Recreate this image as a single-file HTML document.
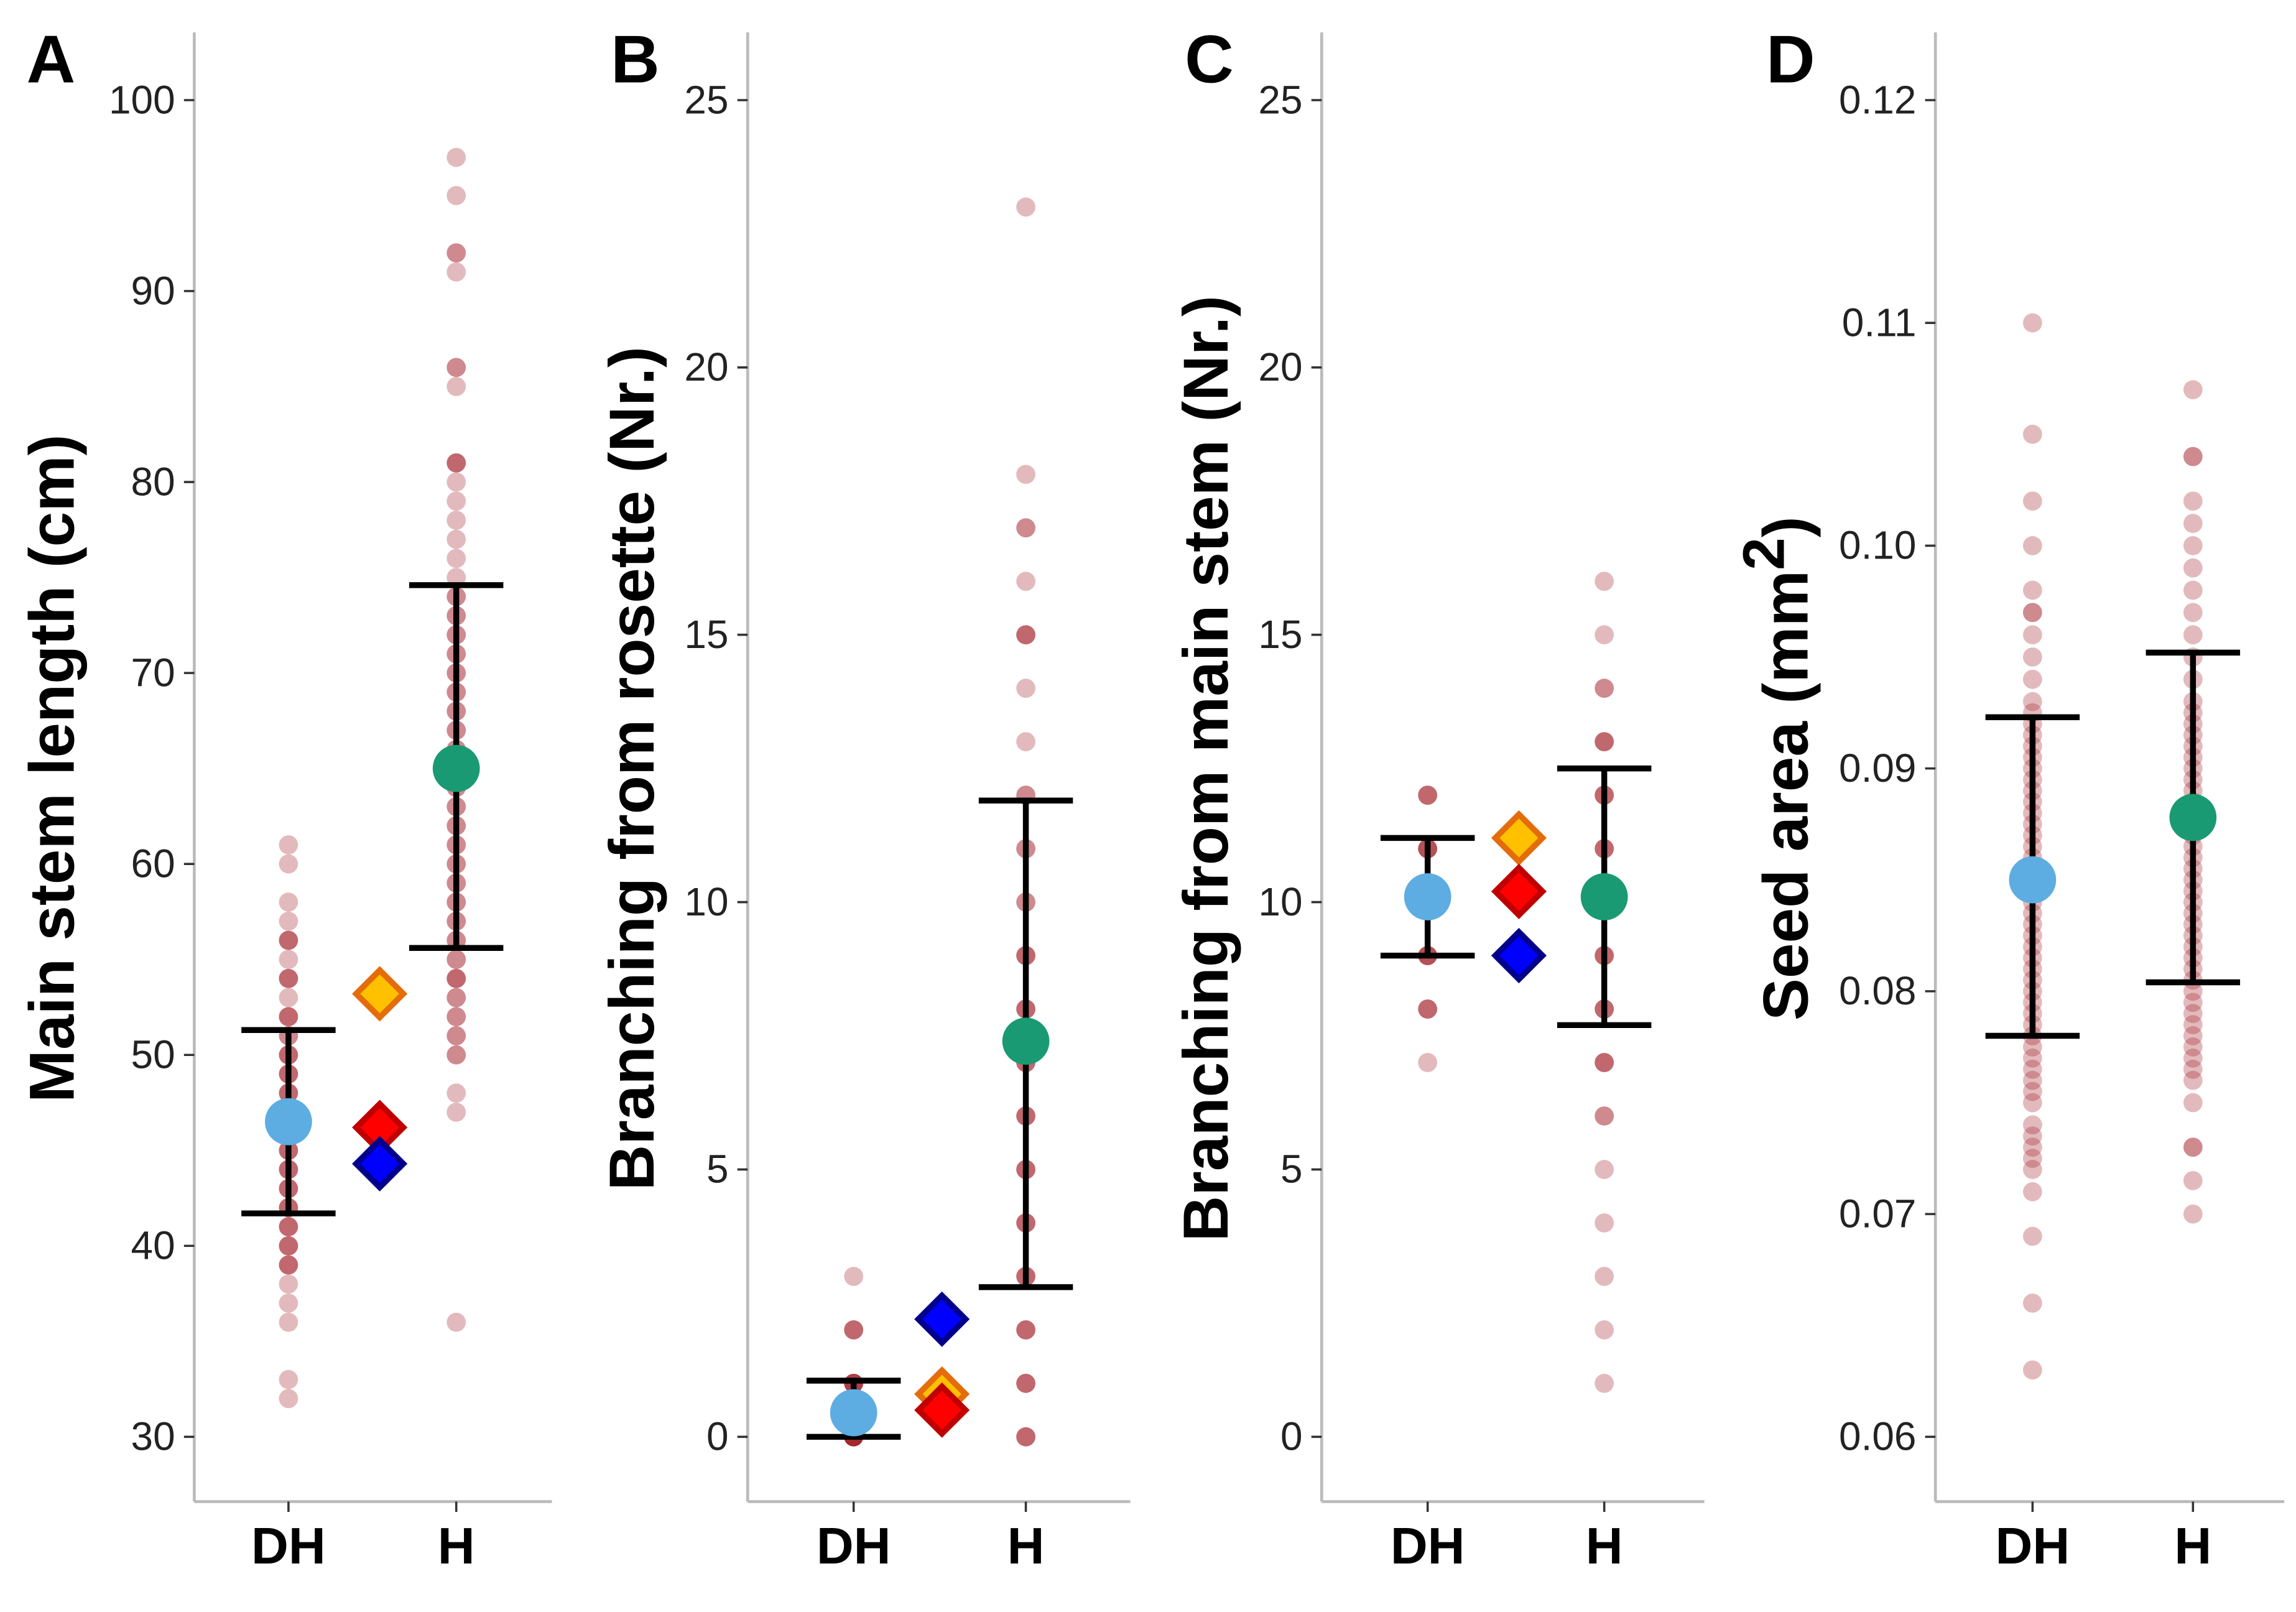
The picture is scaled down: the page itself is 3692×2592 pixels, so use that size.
<!DOCTYPE html>
<html><head><meta charset="utf-8"><style>
html,body{margin:0;padding:0;background:#fff;}
svg{display:block;}
text{font-family:"Liberation Sans",sans-serif;}
</style></head><body>
<svg id="chart" width="3692" height="2592" viewBox="0 0 1560 1095" preserveAspectRatio="none" xmlns="http://www.w3.org/2000/svg"></svg>
<script>
const categories = ["DH","H"];
const panelLetters = ["A","B","C","D"];
const yTitles = ["Main stem length (cm)","Branching from rosette (Nr.)","Branching from main stem (Nr.)","Seed area (mm"];
const ticksA = [30,40,50,60,70,80,90,100];
const ticksB = [0,5,10,15,20,25];
const ticksC = [0,5,10,15,20,25];
const ticksD = [0.06,0.07,0.08,0.09,0.10,0.11,0.12];
const tickLabelsD = ["0.06","0.07","0.08","0.09","0.10","0.11","0.12"];
const dotsA_DH = [32,33,36,37,38,39,39,39,40,40,40,41,41,41,42,42,42,43,43,43,44,44,44,45,45,45,46,46,46,47,47,47,48,48,48,49,49,49,50,50,50,51,51,52,52,52,53,54,54,54,55,56,56,56,57,58,60,61];
const dotsA_H = [36,47,48,50,50,51,51,52,52,53,53,54,54,54,55,55,56,56,57,57,58,58,59,59,60,60,61,61,62,62,63,63,64,64,65,65,66,66,67,67,68,68,69,69,70,70,71,71,72,72,73,73,74,74,75,76,77,78,79,80,81,81,81,85,86,86,91,92,92,95,97];
const dotsB_DH = [0,0,0,0,0,0,0,0,1,1,1,1,1,2,2,2,3];
const dotsB_H = [0,0,0,1,1,1,2,2,2,3,3,3,4,4,4,5,5,5,6,6,6,7,7,7,8,8,8,9,9,9,10,10,11,11,12,12,13,14,15,15,15,16,17,17,18,23];
const dotsC_DH = [7,8,8,8,9,9,9,9,10,10,10,10,10,11,11,11,11,12,12,12];
const dotsC_H = [1,2,3,4,5,6,6,7,7,7,8,8,8,9,9,9,10,10,10,11,11,11,12,12,12,13,13,13,14,14,15,16];
const dotsD_DH = [0.063,0.066,0.069,0.071,0.072,0.0725,0.073,0.0735,0.074,0.075,0.0755,0.076,0.0765,0.077,0.0775,0.078,0.0785,0.079,0.0795,0.080,0.0805,0.081,0.0815,0.082,0.0825,0.083,0.0835,0.084,0.0845,0.085,0.0855,0.086,0.0865,0.087,0.0875,0.088,0.0885,0.089,0.0895,0.090,0.0905,0.091,0.0915,0.092,0.0925,0.093,0.094,0.095,0.096,0.097,0.097,0.098,0.1,0.102,0.105,0.110];
const dotsD_H = [0.070,0.0715,0.073,0.073,0.075,0.076,0.0765,0.077,0.0775,0.078,0.0785,0.079,0.0795,0.080,0.0805,0.081,0.0815,0.082,0.0825,0.083,0.0835,0.084,0.0845,0.085,0.0855,0.086,0.0865,0.087,0.0875,0.088,0.0885,0.089,0.0895,0.090,0.0905,0.091,0.0915,0.092,0.0925,0.093,0.094,0.095,0.096,0.097,0.098,0.099,0.100,0.101,0.102,0.104,0.104,0.107];
const meansA = [46.5,65.0], lowA = [41.7,55.6], highA = [51.3,74.6];
const meansB = [0.45,7.4], lowB = [0,2.8], highB = [1.05,11.9];
const meansC = [10.1,10.1], lowC = [9.0,7.7], highC = [11.2,12.5];
const meansD = [0.0850,0.0878], lowD = [0.0780,0.0804], highD = [0.0923,0.0952];
const diamondNames = ["orange","red","blue"];
const diamondsA = [53.2,46.2,44.3];
const diamondsB = [0.8,0.5,2.2];
const diamondsC = [11.2,10.2,9.0];

const NS="http://www.w3.org/2000/svg";
const svg=document.getElementById('chart');
function mk(tag,attrs,parent){const e=document.createElementNS(NS,tag);for(const k in attrs)e.setAttribute(k,attrs[k]);(parent||svg).appendChild(e);return e;}

const panels=[
 {ax:132,xe:375,cx:[196,310],dx:258,lo:30,hi:100,ticks:ticksA,labels:ticksA.map(String),dots:[dotsA_DH,dotsA_H],m:meansA,l:lowA,h:highA,dia:diamondsA,tx:34,lx:18},
 {ax:508,xe:768,cx:[580,697],dx:640,lo:0,hi:25,ticks:ticksB,labels:ticksB.map(String),dots:[dotsB_DH,dotsB_H],m:meansB,l:lowB,h:highB,dia:diamondsB,tx:428,lx:415},
 {ax:898,xe:1158,cx:[970,1090],dx:1032,lo:0,hi:25,ticks:ticksC,labels:ticksC.map(String),dots:[dotsC_DH,dotsC_H],m:meansC,l:lowC,h:highC,dia:diamondsC,tx:818,lx:805},
 {ax:1315,xe:1552,cx:[1381,1490],dx:null,lo:0.06,hi:0.12,ticks:ticksD,labels:tickLabelsD,dots:[dotsD_DH,dotsD_H],m:meansD,l:lowD,h:highD,dia:null,tx:1212,lx:1200}
];
const yTop=68,yBot=976;
const diaFill=["#FFC000","#FF0000","#0000FF"], diaStroke=["#E46C0A","#C00000","#00008B"];

panels.forEach((p,i)=>{
  const g=mk('g',{});
  
  
  const y=v=>yBot-(v-p.lo)/(p.hi-p.lo)*(yBot-yTop);
  const ya=mk('line',{x1:p.ax,y1:22,x2:p.ax,y2:1020,stroke:'#bbb','stroke-width':2},g);
  
  const xa=mk('line',{x1:p.ax,y1:1020,x2:p.xe,y2:1020,stroke:'#bbb','stroke-width':2},g);
  
  p.ticks.forEach((t,k)=>{
    const yy=y(t);
    mk('line',{x1:p.ax-7,y1:yy,x2:p.ax,y2:yy,stroke:'#333','stroke-width':1.5},g);
    const tl=mk('text',{x:p.ax-13,y:yy+9,'text-anchor':'end','font-size':27,fill:'#222'},g);
    tl.textContent=p.labels[k];
    
  });
  categories.forEach((c,k)=>{
    mk('line',{x1:p.cx[k],y1:1020,x2:p.cx[k],y2:1027,stroke:'#333','stroke-width':1.5},g);
    const xl=mk('text',{x:p.cx[k],y:1062,'text-anchor':'middle','font-size':35,'font-weight':'bold',fill:'#000'},g);
    xl.textContent=c;
    
  });
  const cxT=p.tx+16, cyT=(i===3?522:522);
  const tt=mk('text',{x:cxT,y:cyT,'text-anchor':'middle','font-size':43,'font-weight':'bold',fill:'#000',transform:`rotate(-90 ${cxT} ${cyT})`},g);
  if(i===3){tt.textContent=yTitles[i];const sp=mk('tspan',{dy:-16,'font-size':40},tt);sp.textContent='2';const sp2=mk('tspan',{dy:16},tt);sp2.textContent=')';}
  else tt.textContent=yTitles[i];
  
  const lt=mk('text',{x:p.lx,y:56,'font-size':46,'font-weight':'bold',fill:'#000'},g);
  lt.textContent=panelLetters[i];
  
  p.dots.forEach((arr,k)=>{
    arr.forEach(v=>{
      const d=mk('circle',{cx:p.cx[k],cy:y(v),r:6.5,fill:'rgba(160,25,35,0.3)'},g);
      
    });
  });
  categories.forEach((c,k)=>{
    const x=p.cx[k];
    const eb=mk('path',{d:`M${x} ${y(p.l[k])}V${y(p.h[k])}M${x-32} ${y(p.l[k])}H${x+32}M${x-32} ${y(p.h[k])}H${x+32}`,stroke:'#000','stroke-width':4,fill:'none'},g);
    
    const mc=mk('circle',{cx:x,cy:y(p.m[k]),r:16,fill:k===0?'#5DADE2':'#1A9A72'},g);
    
  });
  if(p.dia){
    p.dia.forEach((v,k)=>{
      const yy=y(v),x=p.dx,s=16;
      const dm=mk('path',{d:`M${x} ${yy-s}L${x+s} ${yy}L${x} ${yy+s}L${x-s} ${yy}Z`,fill:diaFill[k],stroke:diaStroke[k],'stroke-width':4},g);
      
    });
  }
});
</script>
</body></html>
